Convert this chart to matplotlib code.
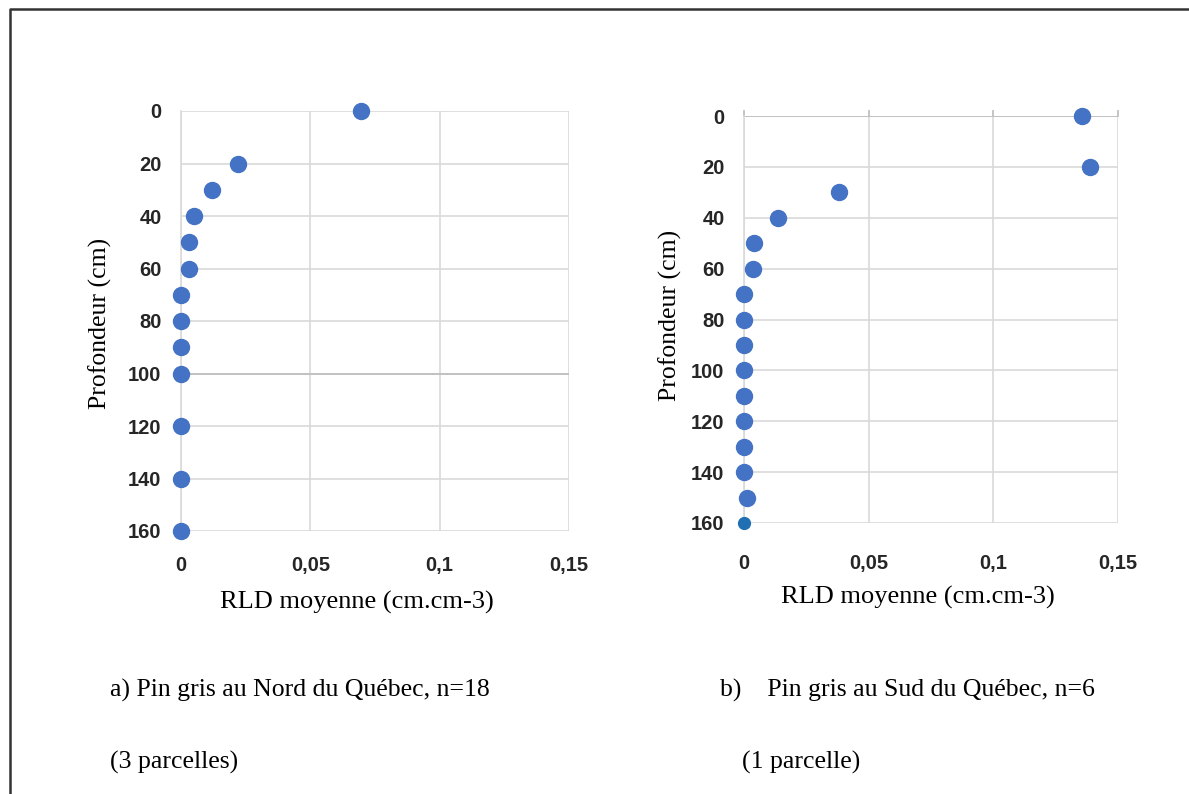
import matplotlib.pyplot as plt
from matplotlib.lines import Line2D
from matplotlib.ticker import FuncFormatter

# Profils de densité racinaire (RLD) selon la profondeur
prof_nord = [0, 20, 30, 40, 50, 60, 70, 80, 90, 100, 120, 140, 160]
rld_nord = [0.0694, 0.0222, 0.0121, 0.0052, 0.0032, 0.0032, 0.0, 0.0, 0.0, 0.0, 0.0, 0.0, 0.0]

prof_sud = [0, 20, 30, 40, 50, 60, 70, 80, 90, 100, 110, 120, 130, 140, 150]
rld_sud = [0.1357, 0.1387, 0.0381, 0.0135, 0.0040, 0.0037, 0.0, 0.0, 0.0, 0.0, 0.0, 0.0, 0.0, 0.0, 0.0012]
# dernier point (160 cm) affiché à part
prof_sud_fin = [160]
rld_sud_fin = [0.0]

y_ticks = [0, 20, 40, 60, 80, 100, 120, 140, 160]
x_ticks = [0, 0.05, 0.1, 0.15]

legende_a = ["a) Pin gris au Nord du Québec, n=18", "(3 parcelles)"]
legende_b = ["b)    Pin gris au Sud du Québec, n=6", "(1 parcelle)"]

BLEU = '#4472C4'
GRILLE = '#d9d9d9'
SERIF = 'Liberation Serif'
SANS = 'Liberation Sans'


def fmt_virgule(v, pos):
    return f'{v:g}'.replace('.', ',')


def prepare_axe(ax, xpad, ligne_axe):
    ax.set_xlim(0, 0.15)
    ax.set_ylim(160, 0)
    ax.set_xticks(x_ticks)
    ax.set_yticks(y_ticks)
    ax.xaxis.set_major_formatter(FuncFormatter(fmt_virgule))
    ax.grid(True, color=GRILLE, linewidth=1.2)
    ax.set_axisbelow(True)
    for side in ['top', 'right', 'bottom']:
        ax.spines[side].set_visible(False)
    ax.spines['left'].set_color(GRILLE)
    ax.spines['left'].set_linewidth(1.2)
    ax.tick_params(axis='both', length=0, labelsize=14.5, labelcolor='#262626')
    ax.tick_params(axis='y', pad=14)
    ax.tick_params(axis='x', pad=xpad)
    for lbl in ax.get_xticklabels() + ax.get_yticklabels():
        lbl.set_fontfamily(SANS)
        lbl.set_fontweight('bold')
    # ligne de l'axe horizontal, un peu plus foncée
    ax.axhline(ligne_axe, color='#bfbfbf', linewidth=1.3, zorder=1)


fig = plt.figure(figsize=(11.89, 7.94), dpi=100)

ax1 = fig.add_axes([181 / 1189, 1 - 531 / 794, 388 / 1189, 420 / 794])
prepare_axe(ax1, 18, 100)
ax1.plot(rld_nord, prof_nord, 'o', color=BLEU, markersize=11.5, clip_on=False, zorder=3)
ax1.set_xlabel('RLD moyenne (cm.cm-3)', fontfamily=SERIF, fontsize=19)
ax1.xaxis.set_label_coords(0.454, -0.143)

ax2 = fig.add_axes([744 / 1189, 1 - 523 / 794, 374 / 1189, 407 / 794])
prepare_axe(ax2, 22, 0)
ax2.plot(rld_sud, prof_sud, 'o', color=BLEU, markersize=11.5, clip_on=False, zorder=3)
ax2.plot(rld_sud_fin, prof_sud_fin, 'o', color='#1f6fb2', markersize=8.5, clip_on=False, zorder=3)
ax2.set_xlabel('RLD moyenne (cm.cm-3)', fontfamily=SERIF, fontsize=19)
ax2.xaxis.set_label_coords(0.465, -0.155)
# petites graduations au-dessus de la ligne à 0
for xv in x_ticks:
    ax2.plot([xv, xv], [0, -2], color='#bfbfbf', linewidth=1.3, clip_on=False, zorder=1)

fig.text(100 / 1189, 1 - 323 / 794, 'Profondeur (cm)', rotation=90, fontfamily=SERIF,
         fontsize=18.5, ha='center', va='center')
fig.text(670 / 1189, 1 - 315 / 794, 'Profondeur (cm)', rotation=90, fontfamily=SERIF,
         fontsize=18.5, ha='center', va='center')

# légendes sous les graphiques
fig.text(110 / 1189, 1 - 690 / 794, legende_a[0], fontfamily=SERIF, fontsize=18.5, va='center')
fig.text(110 / 1189, 1 - 762 / 794, legende_a[1], fontfamily=SERIF, fontsize=18.5, va='center')
fig.text(720 / 1189, 1 - 690 / 794, legende_b[0], fontfamily=SERIF, fontsize=18.5, va='center')
fig.text(742 / 1189, 1 - 762 / 794, legende_b[1], fontfamily=SERIF, fontsize=18.5, va='center')

# cadre (haut et gauche)
fig.add_artist(Line2D([10 / 1189, 10 / 1189, 1], [0, 1 - 9 / 794, 1 - 9 / 794],
                      transform=fig.transFigure, color='#333333', linewidth=1.8))

fig.savefig('out.png', dpi=100)
